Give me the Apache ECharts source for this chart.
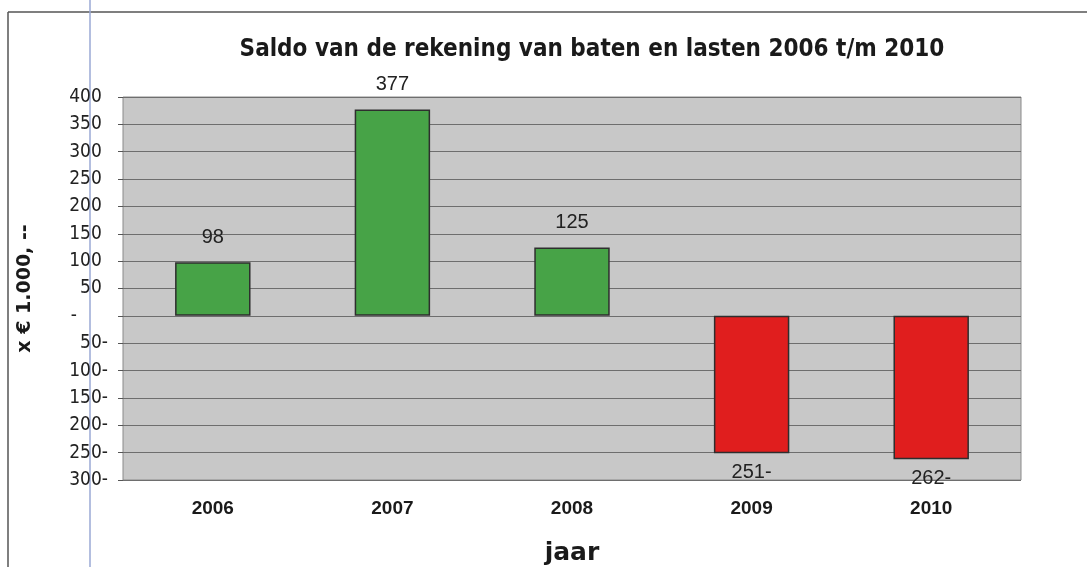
<!DOCTYPE html>
<html>
<head>
<meta charset="utf-8">
<script src="https://cdn.jsdelivr.net/npm/echarts@6/dist/echarts.min.js"></script>
<style>
html,body{margin:0;padding:0;background:#fff;overflow:hidden;}
#c{width:1087px;height:567px;}
</style>
</head>
<body>
<div id="c"></div>
<script>
var categories = ['2006', '2007', '2008', '2009', '2010'];
var saldo = [98, 377, 125, -251, -262];
var yMin = -300, yMax = 400, yStep = 50;
var titleText = 'Saldo van de rekening van baten en lasten 2006 t/m 2010';
var yName = 'x € 1.000, --';
var xName = 'jaar';

function fmtNum(v) {
  if (v === 0) return '-';
  return v < 0 ? Math.abs(v) + '-' : String(v);
}

var chart = echarts.init(document.getElementById('c'), null, {width: 1087, height: 567});
chart.setOption({
  animation: false,
  backgroundColor: '#ffffff',
  title: {
    text: titleText,
    left: 587, top: 33, textAlign: 'center',
    textStyle: {fontFamily: 'DejaVu Sans Condensed', fontWeight: 'bold', fontSize: 24, color: '#1a1a1a'}
  },
  graphic: [
    {type: 'line', shape: {x1: 8, y1: 12, x2: 1087, y2: 12}, style: {stroke: '#555', lineWidth: 1.5}},
    {type: 'line', shape: {x1: 8, y1: 12, x2: 8, y2: 567}, style: {stroke: '#555', lineWidth: 1.5}},
    {type: 'line', shape: {x1: 90, y1: 0, x2: 90, y2: 567}, style: {stroke: '#9aa8d4', lineWidth: 1.5}}
  ],
  grid: {left: 123, width: 898, top: 97, height: 383, outerBoundsMode: 'none', containLabel: false,
    show: true, backgroundColor: '#c8c8c8', borderColor: '#8a8a8a', borderWidth: 1},
  xAxis: {
    type: 'category', data: categories,
    name: xName, nameLocation: 'middle', nameGap: 61,
    nameTextStyle: {fontFamily: 'DejaVu Sans', fontWeight: 'bold', fontSize: 25, color: '#1a1a1a'},
    axisLine: {show: false}, axisTick: {show: false},
    position: 'bottom',
    axisLabel: {margin: 19, fontFamily: 'Liberation Sans', fontWeight: 'bold', fontSize: 19, color: '#1a1a1a'}
  },
  yAxis: {
    type: 'value', min: yMin, max: yMax, interval: yStep,
    name: yName, nameLocation: 'middle', nameGap: 88, nameRotate: 90,
    nameTextStyle: {fontFamily: 'DejaVu Sans', fontWeight: 'bold', fontSize: 19, color: '#1a1a1a'},
    axisLine: {show: false},
    axisTick: {show: true, length: 5, lineStyle: {color: '#555'}},
    splitLine: {lineStyle: {color: '#6e6e6e', width: 1}},
    axisLabel: {
      margin: 15,
      formatter: function (v) {
        if (v === 0) return '-{p|}';
        if (v < 0) return '{n|' + fmtNum(v) + '}';
        return '{n|' + v + '}{h|-}';
      },
      fontFamily: 'DejaVu Sans Condensed', fontSize: 19, color: '#222',
      rich: {
        n: {fontFamily: 'DejaVu Sans Condensed', fontSize: 19, color: '#222'},
        h: {fontFamily: 'DejaVu Sans Condensed', fontSize: 19, color: 'rgba(0,0,0,0)'},
        p: {width: 31}
      }
    }
  },
  series: [{
    type: 'bar', data: saldo.map(function (v) {
      return {value: v, itemStyle: {color: v >= 0 ? '#47a347' : '#e01e1e'},
        label: {position: v >= 0 ? 'top' : 'bottom', distance: v >= 0 ? 15 : 9}};
    }),
    barWidth: '42%',
    itemStyle: {borderColor: '#2e2e2e', borderWidth: 1.5},
    label: {show: true, formatter: function (p) { return fmtNum(p.value); },
      fontFamily: 'Liberation Sans', fontSize: 20, color: '#222'}
  }]
});
</script>
</body>
</html>
